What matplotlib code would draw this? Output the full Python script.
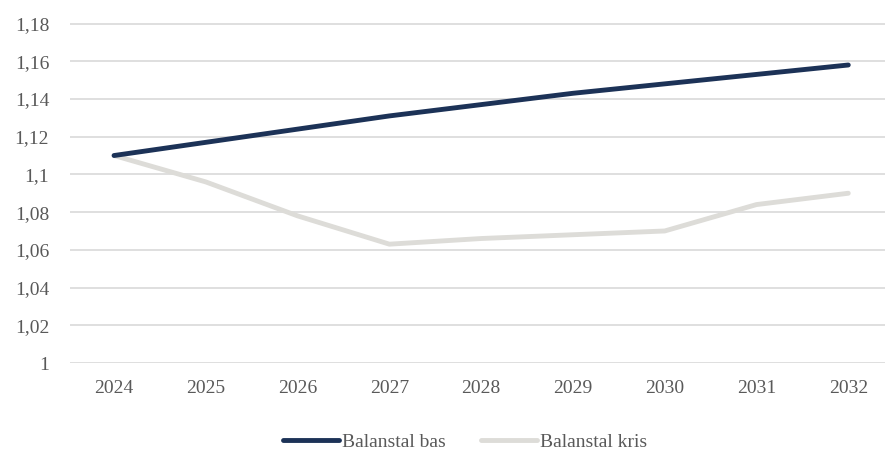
import matplotlib
matplotlib.use("Agg")
import matplotlib.pyplot as plt
import matplotlib.ticker as mticker

YEARS = ["2024", "2025", "2026", "2027", "2028", "2029", "2030", "2031", "2032"]
BALANSTAL_BAS = [1.110, 1.117, 1.124, 1.131, 1.137, 1.143, 1.148, 1.153, 1.158]
BALANSTAL_KRIS = [1.110, 1.096, 1.078, 1.063, 1.066, 1.068, 1.070, 1.084, 1.090]
Y_TICKS = [1.00, 1.02, 1.04, 1.06, 1.08, 1.10, 1.12, 1.14, 1.16, 1.18]

TEXT_COLOR = "#595959"
GRID_COLOR = "#D9D9D9"

plt.rcParams["font.family"] = ["Liberation Serif", "DejaVu Serif"]


def fmt_tick(value: float, _pos: int) -> str:
    text = f"{value:.2f}".rstrip("0").rstrip(".")
    return text.replace(".", ",")


fig = plt.figure(figsize=(8.85, 4.53), dpi=100)
ax = fig.add_axes([70 / 885, 1 - 363 / 453, 815 / 885, (363 - 23.5) / 453])

x = list(range(len(YEARS)))
ax.plot(x, BALANSTAL_BAS, color="#1C3257", linewidth=3.5, solid_capstyle="round", label="Balanstal bas", zorder=3)
ax.plot(x, BALANSTAL_KRIS, color="#DDDCD8", linewidth=3.5, solid_capstyle="round", label="Balanstal kris", zorder=2)

ax.set_ylim(1.0, 1.18)
ax.set_yticks(Y_TICKS)
ax.yaxis.set_major_formatter(mticker.FuncFormatter(fmt_tick))
ax.set_xlim(-0.48, 8.40)
ax.set_xticks(x)
ax.set_xticklabels(YEARS)

ax.grid(axis="y", color=GRID_COLOR, linewidth=1.2)
ax.set_axisbelow(True)
for spine in ax.spines.values():
    spine.set_visible(False)
ax.tick_params(length=0, labelsize=14, colors=TEXT_COLOR, pad=12)
ax.tick_params(axis="y", pad=15)

ax.legend(
    loc="center",
    bbox_to_anchor=(0.485, -0.232),
    ncol=2,
    frameon=False,
    fontsize=14,
    labelcolor=TEXT_COLOR,
    handlelength=2.9,
    handletextpad=0.15,
    columnspacing=1.8,
)

fig.savefig("out.png", dpi=100)
